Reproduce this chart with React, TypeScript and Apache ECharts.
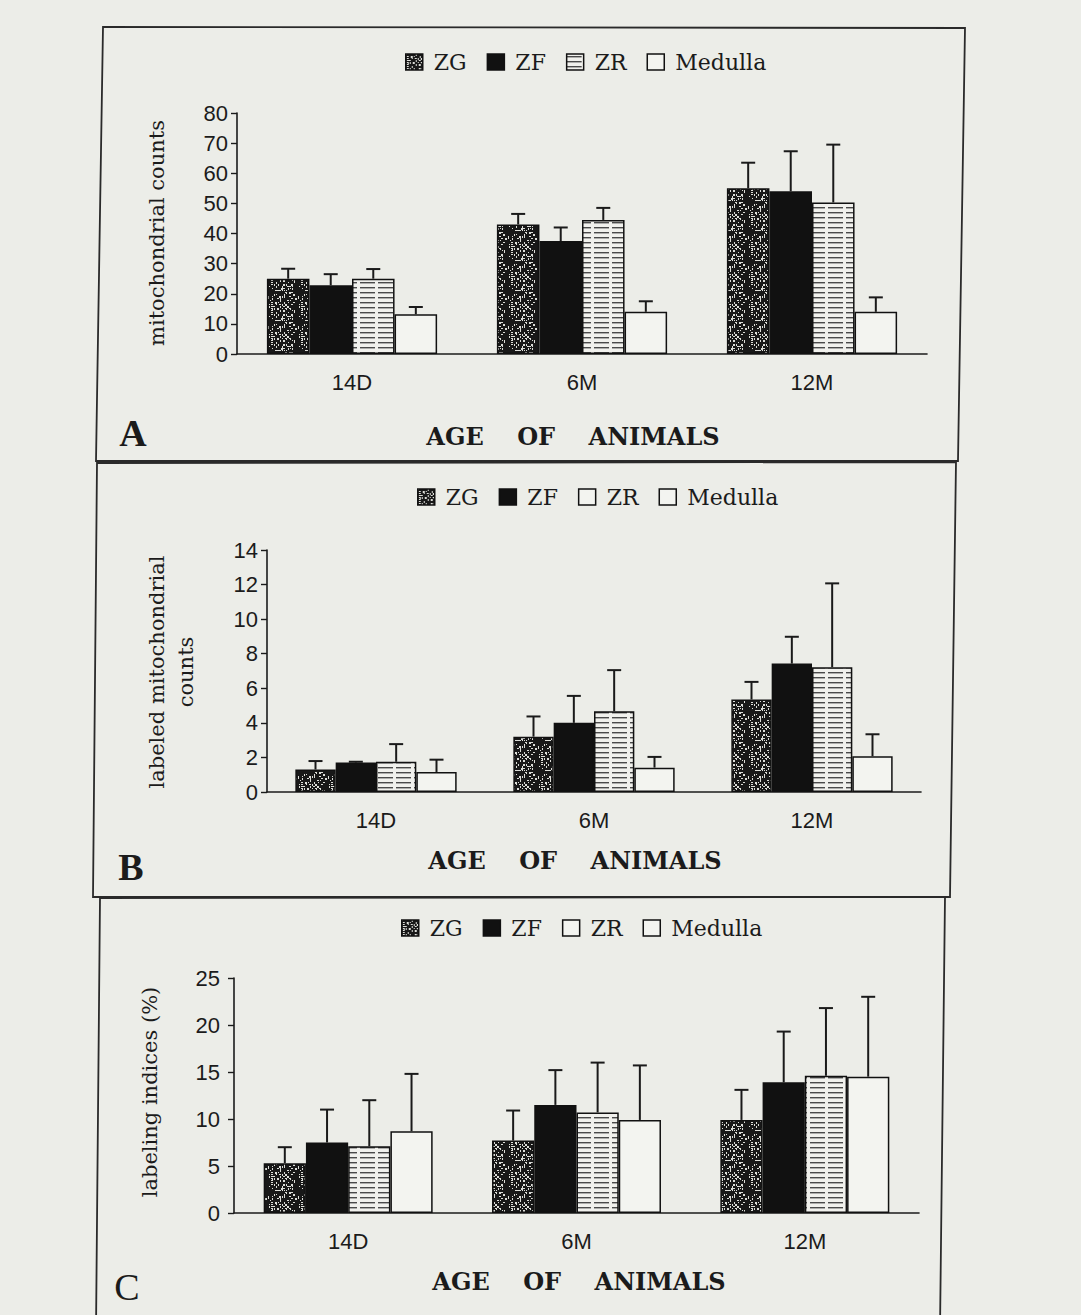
import React, { useEffect, useRef } from 'react';
import * as echarts from 'echarts';

// ---------- data ----------
const categories = ['14D', '6M', '12M'];
const groupNames = ['ZG', 'ZF', 'ZR', 'Medulla'];

// Panel A: mitochondrial counts (mean and upper SD)
const aZG = [25, 43, 55];
const aZF = [22.8, 37.5, 54];
const aZR = [25, 44.5, 50.3];
const aMed = [13.2, 14, 14];
const aZGsd = [3.3, 3.5, 8.5];
const aZFsd = [3.7, 4.5, 13.3];
const aZRsd = [3.2, 4, 19.2];
const aMedsd = [2.4, 3.5, 4.8];
const yTicksA = [0, 10, 20, 30, 40, 50, 60, 70, 80];

// Panel B: labeled mitochondrial counts
const bZG = [1.3, 3.2, 5.35];
const bZF = [1.7, 4.0, 7.43];
const bZR = [1.75, 4.67, 7.22];
const bMed = [1.16, 1.41, 2.07];
const bZGsd = [0.49, 1.17, 1.02];
const bZFsd = [0.05, 1.56, 1.55];
const bZRsd = [1.02, 2.38, 4.85];
const bMedsd = [0.71, 0.62, 1.27];
const yTicksB = [0, 2, 4, 6, 8, 10, 12, 14];

// Panel C: labeling indices (%)
const cZG = [5.3, 7.7, 9.9];
const cZF = [7.5, 11.5, 13.9];
const cZR = [7.1, 10.7, 14.6];
const cMed = [8.7, 9.9, 14.5];
const cZGsd = [1.7, 3.2, 3.2];
const cZFsd = [3.5, 3.7, 5.4];
const cZRsd = [4.9, 5.3, 7.2];
const cMedsd = [6.1, 5.8, 8.5];
const yTicksC = [0, 5, 10, 15, 20, 25];

const panelLetters = ['A', 'B', 'C'];
const yNames = ['mitochondrial counts', 'labeled mitochondrial\ncounts', 'labeling indices (%)'];
const xName = 'AGE    OF    ANIMALS';

// ---------- styling ----------
const BG = '#ecede8';
const INK = '#1b1b1b';
const GAP = 0.26;
const SERIF = '"DejaVu Serif", "Liberation Serif", serif';
const NARROW = '"Liberation Sans Narrow", "Liberation Sans", Arial, sans-serif';

function makeSpeckle(): HTMLCanvasElement {
  const c = document.createElement('canvas');
  c.width = 30;
  c.height = 30;
  const g = c.getContext('2d')!;
  g.fillStyle = '#181818';
  g.fillRect(0, 0, 30, 30);
  g.fillStyle = '#dcddd8';
  for (let y = 0; y < 30; y += 2) {
    for (let x = 0; x < 30; x += 2) {
      const h = (x * 73 + y * 151 + ((x * y) % 13) * 29 + ((x + 3 * y) % 7) * 17) % 19;
      if (h < 7) {
        const w = 1 + (h % 2);
        const hh = 1 + ((h >> 1) % 2);
        g.fillRect(x + (h % 2), y, w, hh);
      }
    }
  }
  return c;
}

function makeLines(): HTMLCanvasElement {
  const c = document.createElement('canvas');
  c.width = 18;
  c.height = 5;
  const g = c.getContext('2d')!;
  g.fillStyle = '#f1f1ed';
  g.fillRect(0, 0, 18, 5);
  g.fillStyle = '#4a4a4a';
  g.fillRect(0, 2, 15, 1.4);
  return c;
}

export default function App() {
  const ref = useRef<HTMLDivElement>(null);

  useEffect(() => {
    document.body.style.margin = '0';
    document.body.style.background = BG;
    if (!ref.current) return;
    const chart = echarts.init(ref.current, undefined, { renderer: 'svg' });

    const speckle = { image: makeSpeckle(), repeat: 'repeat' } as any;
    const lines = { image: makeLines(), repeat: 'repeat' } as any;
    const white = '#f3f4f0';
    const fills = [speckle, '#111111', lines, white];

    const panels = [
      { means: [aZG, aZF, aZR, aMed], sds: [aZGsd, aZFsd, aZRsd, aMedsd], ticks: yTicksA,
        grid: { left: 237, top: 113, width: 690, height: 241 }, labelMargin: 9,
        legendLeft: 405, legendTop: 51, zrLegendFill: lines },
      { means: [bZG, bZF, bZR, bMed], sds: [bZGsd, bZFsd, bZRsd, bMedsd], ticks: yTicksB,
        grid: { left: 267, top: 550, width: 654, height: 242 }, labelMargin: 9,
        legendLeft: 417, legendTop: 486, zrLegendFill: white },
      { means: [cZG, cZF, cZR, cMed], sds: [cZGsd, cZFsd, cZRsd, cMedsd], ticks: yTicksC,
        grid: { left: 234, top: 978, width: 685, height: 235 }, labelMargin: 14,
        legendLeft: 401, legendTop: 917, zrLegendFill: white },
    ];

    const grids: any[] = [];
    const xAxes: any[] = [];
    const yAxes: any[] = [];
    const series: any[] = [];
    const legends: any[] = [];

    panels.forEach((p, pi) => {
      grids.push({ ...p.grid, containLabel: false, outerBoundsMode: 'none' });
      xAxes.push({
        type: 'category', gridIndex: pi, data: categories,
        axisTick: { show: false },
        axisLine: { show: true, lineStyle: { color: INK, width: 1.6 } },
        axisLabel: { fontFamily: NARROW, fontSize: 22, color: INK, margin: 17 },
      });
      const t = p.ticks;
      yAxes.push({
        type: 'value', gridIndex: pi, min: t[0], max: t[t.length - 1], interval: t[1] - t[0],
        splitLine: { show: false },
        axisLine: { show: true, lineStyle: { color: INK, width: 1.6 } },
        axisTick: { show: true, length: 6, lineStyle: { color: INK, width: 1.4 } },
        axisLabel: { fontFamily: NARROW, fontSize: 22, color: INK, margin: p.labelMargin },
      });
      groupNames.forEach((name, si) => {
        series.push({
          type: 'bar', name, xAxisIndex: pi, yAxisIndex: pi,
          data: p.means[si],
          barGap: '0%', barCategoryGap: GAP * 100 + '%',
          itemStyle: { color: fills[si], borderColor: '#111', borderWidth: 1.5 },
        });
      });
      const errData: number[][] = [];
      groupNames.forEach((_, si) => {
        categories.forEach((__, ci) => {
          const m = p.means[si][ci];
          errData.push([ci, si, m, m + p.sds[si][ci]]);
        });
      });
      series.push({
        type: 'custom', name: 'err' + pi, xAxisIndex: pi, yAxisIndex: pi, z: 5,
        encode: { x: 0, y: 3 },
        data: errData,
        renderItem: (params: any, api: any) => {
          const ci = api.value(0);
          const si = api.value(1);
          const base = api.coord([ci, api.value(2)]);
          const tp = api.coord([ci, api.value(3)]);
          const band = api.size([1, 0])[0];
          const used = band * (1 - GAP);
          const bw = used / 4;
          const x = base[0] - used / 2 + bw * (si + 0.5);
          const st = { stroke: '#1a1a1a', lineWidth: 2 };
          return {
            type: 'group',
            children: [
              { type: 'line', shape: { x1: x, y1: base[1], x2: x, y2: tp[1] }, style: st },
              { type: 'line', shape: { x1: x - 7, y1: tp[1], x2: x + 7, y2: tp[1] }, style: st },
            ],
          };
        },
      });
      const legendFills = [speckle, '#111111', p.zrLegendFill, white];
      legends.push({
        left: p.legendLeft, top: p.legendTop, padding: 0, orient: 'horizontal',
        itemWidth: 17, itemHeight: 16, itemGap: 20, selectedMode: false,
        icon: 'rect',
        textStyle: { fontFamily: SERIF, fontSize: 22, color: INK, padding: [0, 0, 0, 6] },
        data: groupNames.map((n, i) => ({
          name: n,
          itemStyle: { color: legendFills[i], borderColor: '#111', borderWidth: 1.5 },
        })),
      });
    });

    const txt = (text: string, x: number, y: number, font: any, rot = 0) => ({
      type: 'text', x, y, rotation: rot, silent: true,
      style: { text, textAlign: 'center', textVerticalAlign: 'middle', fill: INK, ...font },
    });
    const yFont = { fontFamily: SERIF, fontSize: 21, lineHeight: 29 };
    const tFont = { fontFamily: SERIF, fontSize: 24, fontWeight: 'bold' };
    const frame = (pts: number[][]) => ({
      type: 'polygon', silent: true, shape: { points: pts },
      style: { fill: 'none', stroke: '#2a2a2a', lineWidth: 1.8 },
    });

    const graphic: any[] = [
      frame([[103, 27], [965, 28], [958, 461], [96, 461]]),
      frame([[97, 463], [956, 462], [950, 897], [93, 897]]),
      frame([[100, 898], [945, 897], [940, 1330], [96, 1330]]),
      txt(yNames[0], 157, 233, yFont, Math.PI / 2),
      txt(yNames[1], 171, 672, yFont, Math.PI / 2),
      txt(yNames[2], 150, 1092, yFont, Math.PI / 2),
      txt(xName, 573, 436, tFont),
      txt(xName, 575, 860, tFont),
      txt(xName, 579, 1281, tFont),
      txt(panelLetters[0], 133, 433, { fontFamily: '"Liberation Serif", serif', fontSize: 38, fontWeight: 'bold' }),
      txt(panelLetters[1], 131, 867, { fontFamily: '"Liberation Serif", serif', fontSize: 38, fontWeight: 'bold' }),
      txt(panelLetters[2], 127, 1287, { fontFamily: '"Liberation Serif", serif', fontSize: 38 }),
    ];

    chart.setOption({
      animation: false,
      backgroundColor: BG,
      grid: grids,
      xAxis: xAxes,
      yAxis: yAxes,
      legend: legends,
      series,
      graphic,
    });

    return () => chart.dispose();
  }, []);

  return <div ref={ref} style={{ width: 1081, height: 1315 }} />;
}
